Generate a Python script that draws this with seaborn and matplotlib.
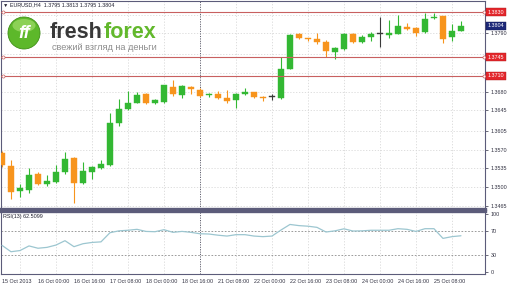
import numpy as np
import pandas as pd
import matplotlib
matplotlib.use("Agg")
import matplotlib.pyplot as plt
import matplotlib.transforms as mtransforms
from matplotlib.patches import Circle, Ellipse
import seaborn as sns

# ---------------- data (EURUSD H4) ----------------
opens = [1.3564, 1.3540, 1.3493, 1.3494, 1.3525, 1.3506, 1.3509, 1.3528, 1.3555, 1.3508,
         1.3528, 1.3536, 1.3541, 1.3621, 1.3647, 1.3658, 1.3675, 1.3658, 1.3660, 1.3689,
         1.3674, 1.3689, 1.3683, 1.3673, 1.3675, 1.3668, 1.3664, 1.3675, 1.3679, 1.3670,
         1.3670, 1.3668, 1.3723, 1.3789, 1.3781, 1.3779, 1.3774, 1.3755, 1.3760, 1.3789,
         1.3774, 1.3783, 1.3789, 1.3787, 1.3789, 1.3802, 1.3800, 1.3792, 1.3819, 1.3823,
         1.3783, 1.3795]
highs = [1.3568, 1.3551, 1.3506, 1.3536, 1.3528, 1.3523, 1.3541, 1.3566, 1.3556, 1.3547,
         1.3539, 1.3551, 1.3640, 1.3666, 1.3681, 1.3679, 1.3677, 1.3666, 1.3692, 1.3702,
         1.3692, 1.3691, 1.3687, 1.3677, 1.3681, 1.3683, 1.3677, 1.3687, 1.3680, 1.3672,
         1.3675, 1.3745, 1.3788, 1.3790, 1.3781, 1.3790, 1.3777, 1.3764, 1.3790, 1.3790,
         1.3787, 1.3792, 1.3821, 1.3815, 1.3825, 1.3809, 1.3802, 1.3828, 1.3828, 1.3823,
         1.3808, 1.3813]
lows = [1.3538, 1.3478, 1.3481, 1.3489, 1.3504, 1.3502, 1.3508, 1.3525, 1.3470, 1.3506,
        1.3515, 1.3534, 1.3540, 1.3615, 1.3645, 1.3658, 1.3656, 1.3656, 1.3658, 1.3672,
        1.3668, 1.3675, 1.3670, 1.3670, 1.3666, 1.3658, 1.3649, 1.3674, 1.3668, 1.3662,
        1.3664, 1.3666, 1.3722, 1.3779, 1.3775, 1.3770, 1.3745, 1.3742, 1.3758, 1.3772,
        1.3772, 1.3775, 1.3764, 1.3781, 1.3789, 1.3796, 1.3785, 1.3790, 1.3817, 1.3772,
        1.3775, 1.3795]
closes = [1.3541, 1.3491, 1.3498, 1.3523, 1.3506, 1.3511, 1.3528, 1.3553, 1.3508, 1.3530,
          1.3538, 1.3543, 1.3621, 1.3647, 1.3658, 1.3674, 1.3658, 1.3664, 1.3692, 1.3675,
          1.3691, 1.3685, 1.3672, 1.3675, 1.3668, 1.3662, 1.3675, 1.3679, 1.3670, 1.3668,
          1.3670, 1.3723, 1.3787, 1.3781, 1.3779, 1.3774, 1.3757, 1.3762, 1.3789, 1.3774,
          1.3783, 1.3789, 1.3789, 1.3790, 1.3804, 1.3798, 1.3790, 1.3817, 1.3821, 1.3779,
          1.3794, 1.3804]
rsi = [46, 35, 37, 45, 41, 42.5, 46.5, 54, 43.7, 48.8,
       51, 52, 67.8, 71, 72, 73.6, 70, 69.5, 73, 68.4,
       70, 68.4, 66, 65.5, 63.5, 62, 64.4, 64.4, 62, 61,
       62, 72.4, 82, 80, 79, 77, 69, 71, 74.5, 70.7,
       71, 72, 72, 72, 74.7, 73.6, 70, 74.7, 74.7, 58,
       61, 62.51]

x_labels = ["15 Oct 2013", "16 Oct 00:00", "16 Oct 16:00", "17 Oct 08:00", "18 Oct 00:00",
            "18 Oct 16:00", "21 Oct 08:00", "22 Oct 00:00", "22 Oct 16:00", "23 Oct 08:00",
            "24 Oct 00:00", "24 Oct 16:00", "25 Oct 08:00"]
x_label_bars = list(range(0, 52, 4))
price_ticks = [1.3465, 1.3500, 1.3535, 1.3570, 1.3605, 1.3645, 1.3680, 1.3715, 1.3750, 1.3790, 1.3825]
price_tick_labels = ["1.3465", "1.3500", "1.3535", "1.3570", "1.3605", "1.3645", "1.3680",
                     "", "", "1.3790", ""]   # others hidden behind the price tags
level_prices = [1.3830, 1.3745, 1.3710]
last_price = 1.3804
rsi_levels = [70, 30]
rsi_ticks = [100, 70, 30, 0]
header = "\u25bc EURUSD,H4  1.3795 1.3813 1.3795 1.3804"
rsi_label = "RSI(13) 62.5099"

# ---------------- style ----------------
sns.set_style("white")
plt.rcParams["font.family"] = ["Liberation Sans", "DejaVu Sans"]

W, H = 510, 285
fig = plt.figure(figsize=(W / 100, H / 100), dpi=100)
L, R = 1 / W, 485 / W
ax = fig.add_axes([L, 1 - 209 / H, R - L, 208 / H])
ax2 = fig.add_axes([L, 1 - 274 / H, R - L, 63 / H])

df = pd.DataFrame(dict(bar=np.arange(len(opens)), open=opens, high=highs,
                       low=lows, close=closes, rsi=rsi))
GREEN, ORANGE, DOJI = "#33b833", "#f7941d", "#3a3a3a"
colors = np.where(df.close > df.open, GREEN, np.where(df.close < df.open, ORANGE, DOJI))

XL = (-0.11, 53.67)
SPINE = "#5c5c7a"
GRID = "#d8d8d8"

# vertical grid
for b in range(2, 54, 4):
    for a in (ax, ax2):
        a.axvline(b, color=GRID, lw=0.6, ls=(0, (1.5, 2)), zorder=0)

# candles
ax.vlines(df.bar, df.low, df.high, colors=colors, lw=0.8, zorder=2)
bottom = np.minimum(df.open, df.close)
height = np.maximum(np.abs(df.close - df.open), 0.00012)
ax.bar(df.bar, height, bottom=bottom, width=0.64, color=colors, edgecolor=colors,
       linewidth=0.3, zorder=3)

ax.set_xlim(*XL)
ax.set_ylim(1.34585, 1.38509)
ax.yaxis.tick_right()
ax.set_yticks(price_ticks)
ax.set_yticklabels(price_tick_labels)
ax.tick_params(axis="y", length=2, width=0.5, pad=2, labelsize=3.9, colors="#303040")
ax.tick_params(axis="x", bottom=False, labelbottom=False)
ax.grid(axis="y", color=GRID, lw=0.6, ls=(0, (1.5, 2)))
ax.set_axisbelow(True)

# level lines
RED = "#c86060"
trans = mtransforms.blended_transform_factory(ax.transAxes, ax.transData)
for p in level_prices:
    ax.axhline(p, color=RED, lw=0.8, zorder=4)
    ax.plot([XL[0] + 0.2, XL[1] - 0.12], [p, p], ls="none", marker="o", ms=2.2,
            mfc="white", mec=RED, mew=0.5, clip_on=False, zorder=5)
    ax.text(1.005, p, f"{p:.4f}", transform=trans, fontsize=3.9, color="white",
            va="center", ha="left", clip_on=False, zorder=10,
            bbox=dict(boxstyle="square,pad=0.3", fc="#e3262b", ec="#b01818", lw=0.3))
ax.text(1.005, last_price, f"{last_price:.4f}", transform=trans, fontsize=3.9,
        color="white", va="center", ha="left", clip_on=False, zorder=10,
        bbox=dict(boxstyle="square,pad=0.3", fc="#1c2878", ec="#101850", lw=0.3))

# crosshair line
for a in (ax, ax2):
    a.axvline(22, color="#555566", lw=0.7, ls=(0, (1, 1.5)), zorder=1)

# RSI
for lv in rsi_levels:
    ax2.axhline(lv, color="#8a8a8a", lw=0.6, ls=(0, (2, 2)), zorder=1)
sns.lineplot(data=df, x="bar", y="rsi", ax=ax2, color="#9cc6d0", lw=0.9, zorder=3)
ax2.set_xlabel("")
ax2.set_ylabel("")
ax2.set_xlim(*XL)
ax2.set_ylim(-3.4, 105.2)
ax2.yaxis.tick_right()
ax2.set_yticks(rsi_ticks)
ax2.set_yticklabels([str(v) for v in rsi_ticks])
ax2.tick_params(axis="y", length=2, width=0.5, pad=2, labelsize=3.9, colors="#303040")
ax2.set_xticks(x_label_bars)
ax2.set_xticklabels(x_labels, ha="left")
ax2.tick_params(axis="x", length=2, width=0.5, pad=1.5, labelsize=3.9, colors="#303040")

for a in (ax, ax2):
    for s in a.spines.values():
        s.set_color(SPINE)
        s.set_linewidth(0.8)
ax.spines["bottom"].set_linewidth(2.4)
ax2.spines["top"].set_linewidth(2.4)

# ---------------- overlay texts / logo ----------------
ov = fig.add_axes([0, 0, 1, 1], zorder=5)
ov.set_xlim(0, W)
ov.set_ylim(H, 0)
ov.axis("off")
ov.text(3, 5, header, fontsize=3.9, color="#202030", va="center", ha="left")
ov.text(3, 216.5, rsi_label, fontsize=3.9, color="#202030", va="center", ha="left")

ov.add_patch(Circle((24, 33), 16, fc="#5db82a", ec="#3f8f17", lw=0.6))
ov.add_patch(Ellipse((24, 25.5), 23, 13, fc="#b4e67c", ec="none", alpha=0.55))
ov.text(24.5, 34, "ff", color="white", fontsize=13, fontweight="bold",
        fontstyle="italic", ha="center", va="center")
t1 = ov.text(50, 37.5, "fresh", fontsize=15.5, fontweight="bold", color="#383838",
             va="baseline", ha="left")
fig.canvas.draw()
bb = t1.get_window_extent()
ov.text(bb.x1 + 0.5, 37.5, "forex", fontsize=15.5, fontweight="bold", color="#62b82c",
        va="baseline", ha="left")
ov.text(52, 42.6, "свежий взгляд на деньги", fontsize=6.6, color="#8c8c8c",
        va="top", ha="left")

fig.savefig("out.png", dpi=100, facecolor="white")
